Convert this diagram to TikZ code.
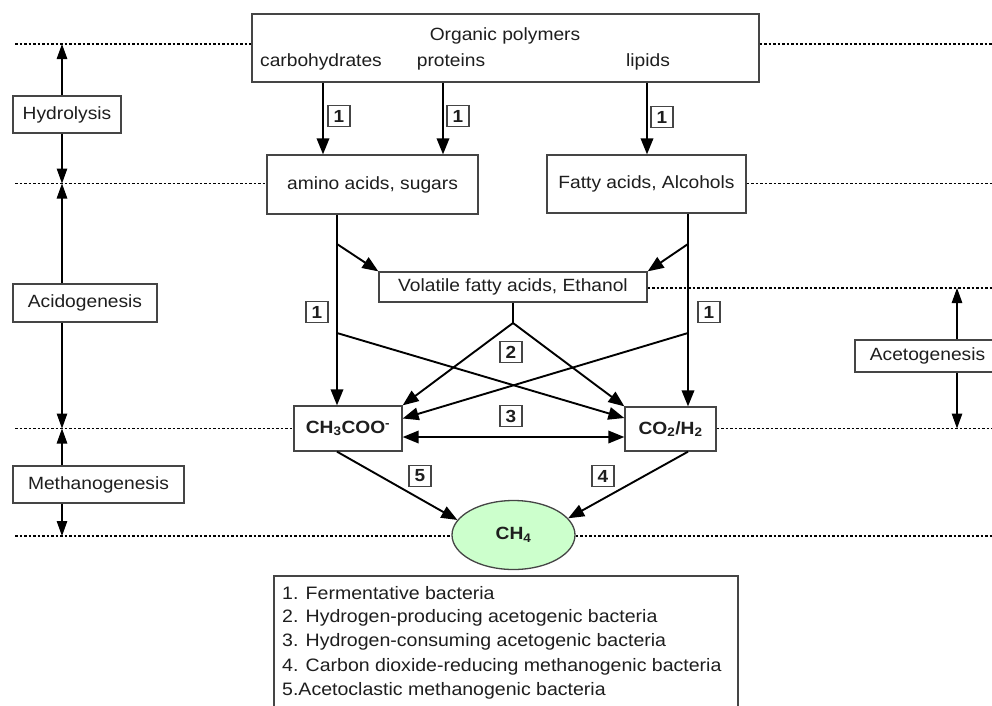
\documentclass[tikz,border=0pt]{standalone}
\usepackage{fontspec}
\setmainfont{Liberation Sans}[FakeStretch=1.085]
\usetikzlibrary{arrows.meta,shapes.geometric,calc}
\definecolor{txt}{HTML}{1E1E1E}
\definecolor{frame}{HTML}{454545}
\definecolor{ch4fill}{HTML}{CCFFCC}
\begin{document}
\begin{tikzpicture}[x=1pt,y=-1pt,
  every node/.style={font=\fontsize{17.7}{21}\selectfont, text=txt},
  box/.style={draw=frame, line width=1.3pt, inner sep=0pt, fill=white},
  numbox/.style={draw=frame, line width=1.3pt, inner sep=0pt, minimum width=22pt, minimum height=21pt, font=\fontsize{17.5}{18}\selectfont\bfseries},
  plain/.style={inner sep=0pt},
  legendtext/.style={inner sep=0pt, anchor=west, font=\fontsize{18}{21}\selectfont},
  flow/.style={line width=1.9pt, -{Triangle[length=16pt,width=12.5pt]}},
  flowboth/.style={line width=1.9pt, {Triangle[length=16pt,width=12.5pt]}-{Triangle[length=16pt,width=12.5pt]}},
  flowline/.style={line width=1.9pt},
  stagearrow/.style={line width=1.2pt, -{Triangle[length=15pt,width=10.5pt]}},
  divider/.style={line width=1.7pt, dash pattern=on 2.8pt off 1.7pt}]
\useasboundingbox (0,0) rectangle (992,705);
\clip (0,0) rectangle (992,705);

% ---- main boxes
\node[box, minimum width=507pt, minimum height=68pt] (top) at (505.5,48) {};
\node[plain] (org) at (505,36) {Organic polymers};
\node[plain] (carb) at (321,62) {carbohydrates};
\node[plain] (prot) at (451,62) {proteins};
\node[plain] (lip) at (648,62) {lipids};

\node[box, minimum width=211pt, minimum height=59pt] (amino) at (372.5,184.5) {amino acids, sugars};
\node[box, minimum width=199pt, minimum height=58pt] (fatty) at (646.5,184) {Fatty acids, Alcohols};
\node[box, minimum width=268pt, minimum height=30pt] (vfa) at (513,287) {Volatile fatty acids, Ethanol};
\node[box, minimum width=108pt, minimum height=45pt, font=\fontsize{17.7}{21}\selectfont\bfseries] (ch3) at (348,428.5) {CH\textsubscript{3}COO\textsuperscript{-}};
\node[box, minimum width=91pt, minimum height=44pt, font=\fontsize{17.7}{21}\selectfont\bfseries] (co2) at (670.5,429) {CO\textsubscript{2}/H\textsubscript{2}};
\node[box, ellipse, fill=ch4fill, minimum width=123pt, minimum height=69pt, font=\fontsize{17.7}{21}\selectfont\bfseries] (ch4) at (513.5,535) {CH\textsubscript{4}};

% ---- stage boxes
\node[box, minimum width=108pt, minimum height=37pt] (hyd) at (67,114.5) {Hydrolysis};
\node[box, minimum width=144pt, minimum height=38pt] (acid) at (85,303) {Acidogenesis};
\node[box, minimum width=171pt, minimum height=37pt] (meth) at (98.5,484.5) {Methanogenesis};
\node[box, minimum width=145pt, minimum height=32pt] (aceto) at (927.5,356) {Acetogenesis};

% ---- legend
\node[box, minimum width=464pt, minimum height=136pt] (legend) at (506,644) {};
\node[legendtext] (lg1) at (282,593) {1. Fermentative bacteria};
\node[legendtext] (lg2) at (282,617.5) {2. Hydrogen-producing acetogenic bacteria};
\node[legendtext] (lg3) at (282,642) {3. Hydrogen-consuming acetogenic bacteria};
\node[legendtext] (lg4) at (282,666.5) {4. Carbon dioxide-reducing methanogenic bacteria};
\node[legendtext] (lg5) at (282,691) {5.Acetoclastic methanogenic bacteria};

% ---- number labels
\node[numbox] (n1a) at (339,116) {1};
\node[numbox] (n1b) at (458,116) {1};
\node[numbox] (n1c) at (662,117) {1};
\node[numbox] (n1d) at (317,312) {1};
\node[numbox] (n1e) at (709,312) {1};
\node[numbox] (n2) at (511,352) {2};
\node[numbox] (n3) at (511,416) {3};
\node[numbox] (n5) at (420,476) {5};
\node[numbox] (n4) at (603,476) {4};

% ---- helper coordinates
\coordinate (xcarb) at (323,0);
\coordinate (xprot) at (443,0);
\coordinate (xlip) at (647,0);
\coordinate (xl) at (337,0);
\coordinate (xr) at (688,0);
\coordinate (bL1) at (337,244);
\coordinate (bR1) at (688,244);
\coordinate (bL2) at (337,333);
\coordinate (bR2) at (688,333);
\coordinate (apex) at (513,323);
\coordinate (sL) at (62,0);
\coordinate (sR) at (957,0);
\coordinate (d1) at (15,44);
\coordinate (d2) at (15,183.5);
\coordinate (d3) at (15,288);
\coordinate (d4) at (15,428.5);
\coordinate (d5) at (15,536);
\coordinate (dR) at (992,0);

% ---- dividers
\draw[divider] (d1) -- (d1 -| top.west);
\draw[divider] (d1 -| top.east) -- (d1 -| dR);
\draw[divider] (d2) -- (d2 -| amino.west);
\draw[divider] (d2 -| fatty.east) -- (d2 -| dR);
\draw[divider] (d3 -| vfa.east) -- (d3 -| dR);
\draw[divider] (d4) -- (d4 -| ch3.west);
\draw[divider] (d4 -| co2.east) -- (d4 -| dR);
\draw[divider] (d5) -- (d5 -| ch4.west);
\draw[divider] (d5 -| ch4.east) -- (d5 -| dR);

% ---- flows
\draw[flow] (top.south -| xcarb) -- (amino.north -| xcarb);
\draw[flow] (top.south -| xprot) -- (amino.north -| xprot);
\draw[flow] (top.south -| xlip) -- (fatty.north -| xlip);
\draw[flow] (amino.south -| xl) -- (ch3.north -| xl);
\draw[flow] (fatty.south -| xr) -- (co2.north -| xr);
\draw[flow] (bL1) -- (vfa.north west);
\draw[flow] (bR1) -- (vfa.north east);
\draw[flowline] (vfa.south) -- (apex);
\draw[flow] (apex) -- (ch3.north east);
\draw[flow] (apex) -- (co2.north west);
\draw[flow] (bL2) -- ($(co2.west)+(0,-11)$);
\draw[flow] (bR2) -- ($(ch3.east)+(0,-10)$);
\draw[flowboth] ($(ch3.east)+(0,8.5)$) -- ($(co2.west)+(0,8)$);
\draw[flow] (ch3.south -| xl) -- (ch4.165);
\draw[flow] (co2.south -| xr) -- (ch4.17);

% ---- stage arrows
\draw[stagearrow] (hyd.north -| sL) -- (sL |- d1);
\draw[stagearrow] (hyd.south -| sL) -- (sL |- d2);
\draw[stagearrow] (acid.north -| sL) -- (sL |- d2);
\draw[stagearrow] (acid.south -| sL) -- (sL |- d4);
\draw[stagearrow] (meth.north -| sL) -- (sL |- d4);
\draw[stagearrow] (meth.south -| sL) -- (sL |- d5);
\draw[stagearrow] (aceto.north -| sR) -- (sR |- d3);
\draw[stagearrow] (aceto.south -| sR) -- (sR |- d4);
\end{tikzpicture}
\end{document}
